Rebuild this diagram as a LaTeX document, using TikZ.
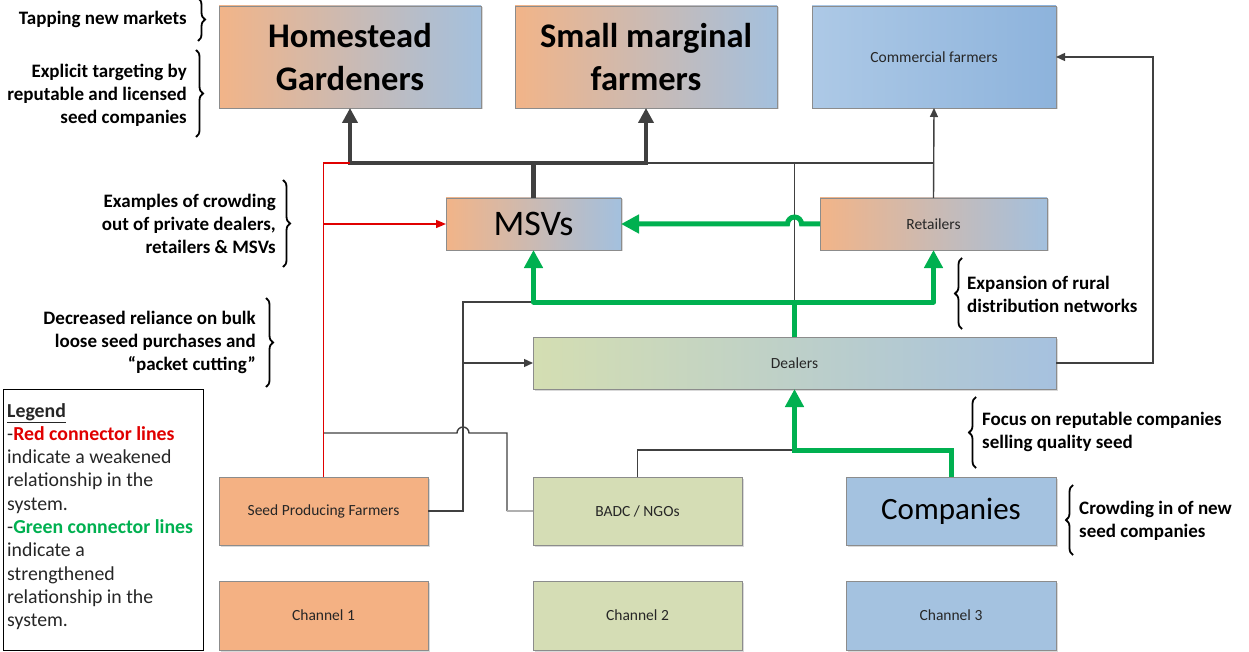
\documentclass[tikz,border=0pt]{standalone}
\usepackage{fontspec}
\setmainfont{Carlito}
\usetikzlibrary{arrows.meta,decorations.pathreplacing,shadows}
\definecolor{orA}{HTML}{F2B488}
\definecolor{blA}{HTML}{A3C0DE}
\definecolor{cfL}{HTML}{ADC9E6}
\definecolor{cfR}{HTML}{8DB3DC}
\definecolor{dlL}{HTML}{D4DEB2}
\definecolor{dlR}{HTML}{A6C1DF}
\definecolor{spf}{HTML}{F4B183}
\definecolor{badc}{HTML}{D5DDB5}
\definecolor{comp}{HTML}{A4C2E0}
\definecolor{bordergray}{HTML}{8C8C8C}
\definecolor{lineg}{HTML}{404040}
\definecolor{lightg}{HTML}{B0B0B0}
\definecolor{grn}{HTML}{00B050}
\definecolor{redc}{HTML}{E00000}
\definecolor{txt}{HTML}{262626}
\tikzset{
  bx/.style={draw=bordergray, line width=0.7pt, inner sep=0pt, outer sep=0pt, align=center,
    text=txt, font=\fontsize{15.5}{18}\selectfont,
    drop shadow={shadow xshift=1.5pt, shadow yshift=-1.5pt, fill=black, opacity=0.15}},
  gradOB/.style={left color=orA, right color=blA},
  thinln/.style={draw=lineg, line width=1.4pt},
  thinarr/.style={thinln, -{Triangle[length=9pt,width=8pt]}},
  thickln/.style={draw=lineg, line width=4.5pt},
  thickarr/.style={thickln, -{Triangle[length=15pt,width=15pt]}},
  grnln/.style={draw=grn, line width=5pt},
  grnarr/.style={grnln, -{Triangle[length=18pt,width=18pt]}},
  redln/.style={draw=redc, line width=1.4pt},
  redarr/.style={redln, -{Triangle[length=10pt,width=8pt]}},
  brc/.style={decorate, decoration={brace, amplitude=7pt}, line width=1.8pt},
  lbl/.style={font=\bfseries\fontsize{19}{23}\selectfont, inner sep=0pt, text=black},
  bigtxt/.style={font=\bfseries\fontsize{34.5}{43}\selectfont, text=black},
}
\begin{document}
\begin{tikzpicture}[x=1pt,y=-1pt]
\useasboundingbox (0,0) rectangle (1249,652);
% boxes
\node[bx, gradOB, minimum width=262pt, minimum height=102pt, bigtxt] (home) at (350,57) {Homestead\\Gardeners};
\node[bx, gradOB, minimum width=262pt, minimum height=102pt, bigtxt] (small) at (646,57) {Small marginal\\farmers};
\node[bx, left color=cfL, right color=cfR, minimum width=244pt, minimum height=102pt] (comm) at (934,57) {Commercial farmers};
\node[bx, gradOB, minimum width=175pt, minimum height=52pt, font=\fontsize{36}{40}\selectfont, text=black] (msv) at (533.5,224) {MSVs};
\node[bx, gradOB, minimum width=227pt, minimum height=52pt] (ret) at (933.5,224) {Retailers};
\node[bx, left color=dlL, right color=dlR, minimum width=523pt, minimum height=52pt] (deal) at (794.5,363) {Dealers};
\node[bx, fill=spf, minimum width=209pt, minimum height=68pt] (spfn) at (323.5,511) {Seed Producing Farmers};
\node[bx, fill=badc, minimum width=209pt, minimum height=68pt] (badcn) at (637.5,511) {BADC / NGOs};
\node[bx, fill=comp, minimum width=210pt, minimum height=68pt, font=\fontsize{31}{35}\selectfont, text=black] (compn) at (951,511) {Companies};
\node[bx, fill=spf, minimum width=209pt, minimum height=69pt] (ch1) at (323.5,615.5) {Channel 1};
\node[bx, fill=badc, minimum width=209pt, minimum height=69pt] (ch2) at (637.5,615.5) {Channel 2};
\node[bx, fill=comp, minimum width=210pt, minimum height=69pt] (ch3) at (951,615.5) {Channel 3};
% legend
\node[draw=black, line width=1pt, minimum width=200pt, minimum height=261pt, anchor=north west, inner sep=0pt] (legend) at (3,389) {};
\node[anchor=north west, align=left, inner sep=0pt, font=\fontsize{19.8}{23.3}\selectfont, text=txt] (legtext) at (7,403)
 {\underline{\textbf{Legend}}\\
  -\textcolor{redc}{\textbf{Red connector lines}}\\
  indicate a weakened\\
  relationship in the\\
  system.\\
  -\textcolor{grn}{\textbf{Green connector lines}}\\
  indicate a\\
  strengthened\\
  relationship in the\\
  system.};
% coordinates
\coordinate (jT) at (533.5,163);
\coordinate (jR) at (794.5,163);
\coordinate (jG) at (794.5,302);
\coordinate (jS) at (463,302);
% thin lines
\draw[thinln] (small.south |- jT) -- (ret.north |- jT);
\draw[thinln] (jR) -- (deal.north);
\draw[thinarr] (ret.north) -- (comm.south);
\draw[thinln] (spfn.east) -- (463,511) -- (jS) -- (msv.south |- jS);
\draw[thinarr] (463,363) -- (deal.west);
\draw[thinln] (323.5,433) -- (457,433) arc[start angle=180, end angle=360, radius=6] -- (507,433) -- (507,511);
\draw[draw=lightg, line width=1.2pt] (507,511) -- (badcn.west);
\draw[thinln] (badcn.north) -- (637.5,450) -- (794.5,450);
\draw[thinarr] (deal.east) -- (1153,363) -- (1153,57) -- (comm.east);
% thick dark
\draw[thickln] (msv.north) -- (jT);
\draw[thickarr] (jT) -| (home.south);
\draw[thickarr] (jT) -| (small.south);
% red
\draw[redln] (spfn.north) -- (323.5,163) -- (home.south |- jT);
\draw[redarr] (323.5,224) -- (msv.west);
% green
\draw[grnarr] (compn.north) -- (951,450) -| (deal.south);
\draw[grnln] (deal.north) -- (jG);
\draw[grnarr, line join=round] (jG) -| (msv.south);
\draw[grnarr, line join=round] (jG) -| (ret.south);
\draw[grnarr] (ret.west) -- (801.5,224) arc[start angle=0, end angle=-180, radius=7] -- (msv.east);
% braces and labels
\draw[brc] (198,-2) -- (198,41);
\node[lbl, anchor=east] (l1) at (187,19) {Tapping new markets};
\draw[brc] (196,50) -- (196,137);
\node[lbl, anchor=east, align=right] (l2) at (187,95) {Explicit targeting by\\reputable and licensed\\seed companies};
\draw[brc] (283,180) -- (283,267);
\node[lbl, anchor=east, align=right] (l3) at (276,224) {Examples of crowding\\out of private dealers,\\retailers \& MSVs};
\draw[brc] (266,298) -- (266,387);
\node[lbl, anchor=east, align=right] (l4) at (256,342) {Decreased reliance on bulk\\loose seed purchases and\\“packet cutting”};
\draw[brc] (962,329) -- (962,258);
\node[lbl, anchor=west, align=left] (l5) at (967,294) {Expansion of rural\\distribution networks};
\draw[brc] (976,468) -- (976,397);
\node[lbl, anchor=west, align=left] (l6) at (982,432) {Focus on reputable companies\\selling quality seed};
\draw[brc] (1073,555) -- (1073,485);
\node[lbl, anchor=west, align=left] (l7) at (1079,521) {Crowding in of new\\seed companies};
\end{tikzpicture}
\end{document}
